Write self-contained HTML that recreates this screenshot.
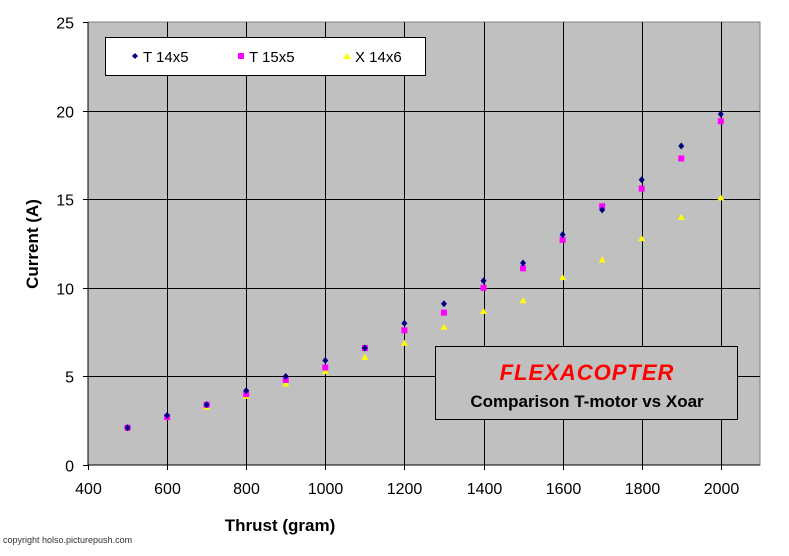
<!DOCTYPE html>
<html><head><meta charset="utf-8"><style>
body{margin:0;background:#fff;}
svg{display:block;font-family:"Liberation Sans",Arial,sans-serif;}
</style></head><body>
<svg id="s" width="789" height="556" viewBox="0 0 789 556" xmlns="http://www.w3.org/2000/svg">
<rect x="88" y="22" width="672" height="443" fill="#c0c0c0" stroke="#808080" stroke-width="1"/>
<g id="grid" stroke="#000" stroke-width="1"></g>
<line x1="88" y1="22" x2="88" y2="465" stroke="#000"/>
<line x1="88" y1="465" x2="760" y2="465" stroke="#000"/>
<g id="ticks" font-size="16" fill="#000"></g>
<text x="280" y="531" font-size="17" font-weight="bold" text-anchor="middle">Thrust (gram)</text>
<text transform="translate(38,244) rotate(-90)" font-size="17" font-weight="bold" text-anchor="middle">Current (A)</text>
<g id="pts"></g>
<rect x="105.5" y="37.5" width="320" height="38" fill="#fff" stroke="#000"/>
<path d="M135,53 l3,3 l-3,3 l-3,-3z" fill="#000080"/>
<text x="143" y="62" font-size="15">T 14x5</text>
<rect x="238" y="53" width="6" height="6" fill="#ff00ff"/>
<text x="249" y="62" font-size="15">T 15x5</text>
<path d="M343,59 l4,-6 l4,6z" fill="#ffff00"/>
<text x="355" y="62" font-size="15">X 14x6</text>
<rect x="435.5" y="346.5" width="302" height="73" fill="#c0c0c0" stroke="#000"/>
<text x="587" y="380" font-size="22" font-weight="bold" font-style="italic" fill="#ff0000" text-anchor="middle" letter-spacing="1">FLEXACOPTER</text>
<text x="587" y="407" font-size="17" font-weight="bold" text-anchor="middle">Comparison T-motor vs Xoar</text>
<text x="3" y="543" font-size="9" fill="#333">copyright holso.picturepush.com</text>
</svg>
<script>
var NS="http://www.w3.org/2000/svg";
function X(v){return 88+(v-400)/200*79.1;}
function Y(v){return 465-v*17.72;}
function el(p,t,a,txt){var e=document.createElementNS(NS,t);for(var k in a)e.setAttribute(k,a[k]);if(txt!=null)e.textContent=txt;document.getElementById(p).appendChild(e);}
for(var v=600;v<=2000;v+=200){var x=Math.round(X(v))+.5;el("grid","line",{x1:x,y1:22,x2:x,y2:465});}
for(var v=5;v<=20;v+=5){var y=Math.round(Y(v))+.5;el("grid","line",{x1:88,y1:y,x2:760,y2:y});}
for(var v=0;v<=25;v+=5){var y=Math.round(Y(v))+.5;el("grid","line",{x1:83,y1:y,x2:88,y2:y});el("ticks","text",{x:74,y:y+6,"text-anchor":"end"},v);}
for(var v=400;v<=2000;v+=200){var x=Math.round(X(v))+.5;el("grid","line",{x1:x,y1:465,x2:x,y2:470});el("ticks","text",{x:x,y:494,"text-anchor":"middle"},v);}
var a=[2.1,2.8,3.4,4.2,5.0,5.9,6.6,8.0,9.1,10.4,11.4,13.0,14.4,16.1,18.0,19.8];
var b=[2.1,2.7,3.4,4.0,4.8,5.5,6.6,7.6,8.6,10.0,11.1,12.7,14.6,15.6,17.3,19.4];
var c=[2.1,2.7,3.3,3.9,4.6,5.3,6.1,6.9,7.8,8.7,9.3,10.6,11.6,12.8,14.0,15.1];
for(var i=0;i<16;i++){var x=X(500+i*100);
var y=Y(c[i]);el("pts","path",{d:"M"+(x-3.5)+","+(y+3)+" l3.5,-6 l3.5,6z",fill:"#ffff00"});
y=Y(b[i]);el("pts","rect",{x:x-3,y:y-3,width:6,height:6,fill:"#ff00ff"});
y=Y(a[i]);el("pts","path",{d:"M"+x+","+(y-3.5)+" l3,3.5 l-3,3.5 l-3,-3.5z",fill:"#000080"});}
</script>
</body></html>
